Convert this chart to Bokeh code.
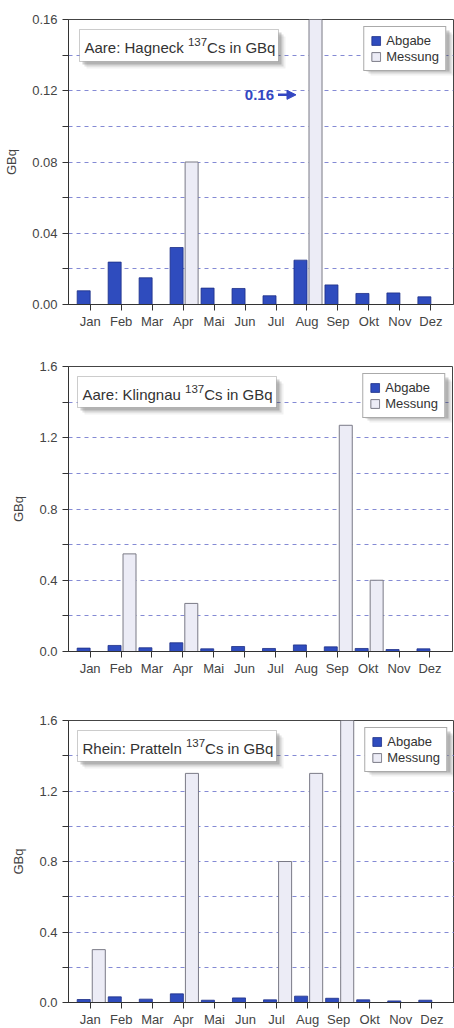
from bokeh.plotting import figure
from bokeh.layouts import column
from bokeh.models import (ColumnDataSource, Range1d, FixedTicker, Label,
                          BoxAnnotation, Legend, LegendItem, Arrow, NormalHead)
from bokeh.transform import dodge
from bokeh.embed import file_html
from bokeh.resources import INLINE

# ---------------- data ----------------
months = ["Jan", "Feb", "Mar", "Apr", "Mai", "Jun",
          "Jul", "Aug", "Sep", "Okt", "Nov", "Dez"]

hagneck_abgabe = [0.0077, 0.0238, 0.0150, 0.0320, 0.0092, 0.0090,
                  0.0049, 0.0249, 0.0110, 0.0062, 0.0065, 0.0043]
hagneck_messung = [0, 0, 0, 0.080, 0, 0, 0, 0.16, 0, 0, 0, 0]

klingnau_abgabe = [0.019, 0.034, 0.021, 0.049, 0.015, 0.028,
                   0.017, 0.037, 0.026, 0.017, 0.011, 0.015]
klingnau_messung = [0, 0.548, 0, 0.27, 0, 0, 0, 0, 1.27, 0.40, 0, 0]

pratteln_abgabe = [0.017, 0.032, 0.019, 0.049, 0.013, 0.026,
                   0.015, 0.036, 0.024, 0.015, 0.009, 0.013]
pratteln_messung = [0.30, 0, 0, 1.30, 0, 0, 0.80, 1.30, 1.60, 0, 0, 0]

# title pieces: (prefix, superscript, suffix)
titles = [("Aare: Hagneck ", "137", "Cs in GBq"),
          ("Aare: Klingnau ", "137", "Cs in GBq"),
          ("Rhein: Pratteln ", "137", "Cs in GBq")]
y_max = [0.16, 1.6, 1.6]
grid_steps = [0.02, 0.2, 0.2]
label_every = [2, 2, 2]
decimals = [2, 1, 1]
series_names = ["Abgabe", "Messung"]
y_axis_label = "GBq"

# ---------------- style ----------------
FONT = "Liberation Sans"
TXT = "#444444"
BLUE = "#2f4cbe"
BLUE_LINE = "#1d2f86"
LIGHT = "#ececf6"
LIGHT_LINE = "#7a7a86"
GRID = "#6e75cc"
ANNOT = "#3347c2"
X0, X1 = -0.7, 11.73

# Arial / Liberation Sans advance widths (per 1000 em) for text layout
W = {" ": 278, ":": 278, "A": 667, "B": 667, "C": 722, "G": 778, "H": 722,
     "K": 667, "P": 667, "R": 722, "a": 556, "c": 500, "e": 556, "g": 556,
     "h": 556, "i": 222, "k": 500, "l": 222, "n": 556, "q": 556, "r": 333,
     "s": 500, "t": 278}


def text_w(s, size):
    return sum(W.get(ch, 556) for ch in s) * size / 1000.0


def make_panel(title, abgabe, messung, ymax, step, every, dec,
               left, frame_w, right, top, frame_h, bottom, box_dx, box_h,
               arrow=False):
    p = figure(frame_width=frame_w, frame_height=frame_h,
               x_range=Range1d(X0, X1), y_range=Range1d(0, ymax),
               output_backend="svg", toolbar_location=None,
               min_border_left=left, min_border_right=right,
               min_border_top=top, min_border_bottom=bottom)
    p.background_fill_color = "white"
    p.border_fill_color = "white"
    p.outline_line_color = "#444444"
    p.outline_line_width = 1

    idx = list(range(len(months)))
    src_a = ColumnDataSource(dict(x=idx, top=abgabe))
    mi = [i for i, v in zip(idx, messung) if v > 0]
    mv = [v for v in messung if v > 0]
    src_m = ColumnDataSource(dict(x=mi, top=mv))

    # grid
    n = int(round(ymax / step))
    ticks = [round(i * step, 4) for i in range(n + 1)]
    p.xgrid.grid_line_color = None
    p.ygrid.ticker = FixedTicker(ticks=ticks)
    p.ygrid.grid_line_color = GRID
    p.ygrid.grid_line_dash = "4 4"
    p.ygrid.grid_line_width = 1
    p.ygrid.grid_line_alpha = 0.85

    ra = p.vbar(x=dodge("x", -0.21), top="top", bottom=0, width=0.42,
                source=src_a, fill_color=BLUE, line_color=BLUE_LINE,
                line_width=0.8)
    rm = p.vbar(x=dodge("x", 0.275), top="top", bottom=0, width=0.42,
                source=src_m, fill_color=LIGHT, line_color=LIGHT_LINE,
                line_width=1)

    # axes
    p.xaxis.ticker = FixedTicker(ticks=idx)
    p.xaxis.major_label_overrides = {i: m for i, m in enumerate(months)}
    p.yaxis.ticker = FixedTicker(ticks=ticks)
    p.yaxis.major_label_overrides = {
        t: (f"{t:.{dec}f}" if i % every == 0 else "") for i, t in enumerate(ticks)}
    for ax in (p.xaxis, p.yaxis):
        ax.axis_line_color = "#333333"
        ax.major_tick_line_color = "#333333"
        ax.major_tick_out = 6
        ax.major_tick_in = 0
        ax.minor_tick_line_color = None
        ax.major_label_text_font = FONT
        ax.major_label_text_font_size = "13px"
        ax.major_label_text_color = TXT
    p.xaxis.major_label_standoff = 3
    p.yaxis.major_label_standoff = 5
    p.yaxis.axis_label = y_axis_label
    p.yaxis.axis_label_text_font = FONT
    p.yaxis.axis_label_text_font_size = "13px"
    p.yaxis.axis_label_text_font_style = "normal"
    p.yaxis.axis_label_text_color = TXT
    p.yaxis.axis_label_standoff = 10

    xpp = (X1 - X0) / frame_w
    ypp = ymax / frame_h

    def box(l, t, w, h, **kw):
        return BoxAnnotation(left=X0 + l * xpp, right=X0 + (l + w) * xpp,
                             top=ymax - t * ypp, bottom=ymax - (t + h) * ypp,
                             level="annotation", **kw)

    # ---- title box with soft shadow ----
    bt, bw = 10, 199
    for off, alpha in ((7, 0.07), (5, 0.14), (3, 0.22)):
        p.add_layout(box(box_dx + off, bt + off, bw, box_h,
                         fill_color="#333333", fill_alpha=alpha, line_color=None))
    p.add_layout(box(box_dx, bt, bw, box_h, fill_color="white", fill_alpha=1,
                     line_color="#555555", line_width=1))
    pre, sup, suf = title
    tx = box_dx + 5
    base = bt + 18
    p.add_layout(Label(x=X0, y=ymax, x_offset=tx, y_offset=-base, text=pre,
                       text_font=FONT, text_font_size="15px",
                       text_color="#333333", text_baseline="alphabetic"))
    sx = tx + text_w(pre, 15)
    p.add_layout(Label(x=X0, y=ymax, x_offset=sx, y_offset=-(base - 6), text=sup,
                       text_font=FONT, text_font_size="11.5px",
                       text_color="#333333", text_baseline="alphabetic"))
    cx = sx + text_w(sup, 11.5)
    p.add_layout(Label(x=X0, y=ymax, x_offset=cx, y_offset=-base, text=suf,
                       text_font=FONT, text_font_size="15px",
                       text_color="#333333", text_baseline="alphabetic"))

    # ---- legend with soft shadow ----
    lw, lh, lm = 83, 41, 7
    for off, alpha in ((7, 0.07), (5, 0.14), (3, 0.22)):
        p.add_layout(box(frame_w - lm - lw + off, lm + 1 + off, lw, lh,
                         fill_color="#333333", fill_alpha=alpha, line_color=None))

    legend = Legend(items=[LegendItem(label=series_names[0], renderers=[ra]),
                           LegendItem(label=series_names[1], renderers=[rm])],
                    location="top_right", margin=lm, padding=6, spacing=1,
                    label_height=15, glyph_height=11, glyph_width=11,
                    label_standoff=5, label_text_font=FONT,
                    label_text_font_size="13px", label_text_color="#333333",
                    border_line_color="#555555", border_line_width=1,
                    background_fill_color="white", background_fill_alpha=1)
    p.add_layout(legend, "center")

    if arrow:
        k = max(range(len(messung)), key=lambda i: messung[i])
        ya = 0.1177
        p.add_layout(Label(x=k, y=ya, x_offset=-33, text=f"{messung[k]:.2f}",
                           text_align="right", text_baseline="middle",
                           text_font=FONT, text_font_size="15px",
                           text_font_style="bold", text_color=ANNOT))
        p.add_layout(Arrow(x_start=k - 29 * xpp, y_start=ya,
                           x_end=k - 11 * xpp, y_end=ya,
                           line_color=ANNOT, line_width=2.5,
                           end=NormalHead(size=9, fill_color=ANNOT,
                                          line_color=ANNOT)))
    return p


p1 = make_panel(titles[0], hagneck_abgabe, hagneck_messung, y_max[0],
                grid_steps[0], label_every[0], decimals[0],
                68, 385, 1, 19, 285, 34, 11, 32, arrow=True)
p2 = make_panel(titles[1], klingnau_abgabe, klingnau_messung, y_max[1],
                grid_steps[1], label_every[1], decimals[1],
                66, 384, 4, 28, 285, 35, 9, 31)
p3 = make_panel(titles[2], pratteln_abgabe, pratteln_messung, y_max[2],
                grid_steps[2], label_every[2], decimals[2],
                66, 386, 2, 34, 282, 25, 9, 31)

layout = column(p1, p2, p3, spacing=0)
open("out.html", "w").write(file_html(layout, INLINE))
